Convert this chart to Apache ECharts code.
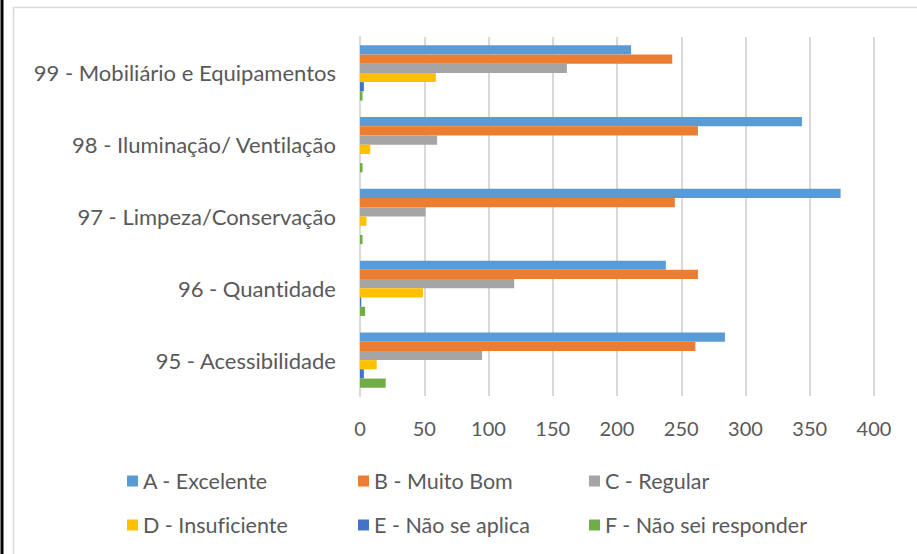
<!DOCTYPE html>
<html>
<head>
<meta charset="utf-8">
<script src="https://cdn.jsdelivr.net/npm/echarts@6/dist/echarts.min.js"></script>
<style>
  html, body { margin: 0; padding: 0; background: #fff; }
  #chart { width: 917px; height: 554px; }
  #chart text { font-variant-ligatures: none; font-feature-settings: "liga" 0, "dlig" 0; }
</style>
</head>
<body>
<div id="chart"></div>
<script>
// Questions, bottom to top
const categories = [
  '95 - Acessibilidade',
  '96 - Quantidade',
  '97 - Limpeza/Conservação',
  '98 - Iluminação/ Ventilação',
  '99 - Mobiliário e Equipamentos'
];

const seriesNames = [
  'A - Excelente',
  'B - Muito Bom',
  'C - Regular',
  'D - Insuficiente',
  'E - Não se aplica',
  'F - Não sei responder'
];

// Answer counts per question (same order as categories)
const excelente     = [284, 238, 374, 344, 211];
const muitoBom      = [261, 263, 245, 263, 243];
const regular       = [95, 120, 51, 60, 161];
const insuficiente  = [13, 49, 5, 8, 59];
const naoSeAplica   = [3, 1, 0, 0, 3];
const naoSeiResp    = [20, 4, 2, 2, 2];

const xTicks = [0, 50, 100, 150, 200, 250, 300, 350, 400];

const colors = ['#5B9BD5', '#ED7D31', '#A5A5A5', '#FFC000', '#4472C4', '#70AD47'];
const values = [excelente, muitoBom, regular, insuficiente, naoSeAplica, naoSeiResp];

const FONT = 'Lato';
const TXT = '#595959';

const chart = echarts.init(document.getElementById('chart'), null, { renderer: 'svg' });

// One legend per entry so the entries line up in three columns
const legendSpots = [
  { left: 127, top: 470 }, { left: 358, top: 470 }, { left: 589, top: 470 },
  { left: 127, top: 514 }, { left: 358, top: 514 }, { left: 589, top: 514 }
];
const legends = seriesNames.map((name, i) => ({
  data: [name],
  left: legendSpots[i].left,
  top: legendSpots[i].top,
  padding: 0,
  itemWidth: 11,
  itemHeight: 11,
  itemGap: 6,
  icon: 'rect',
  selectedMode: false,
  textStyle: { color: TXT, fontSize: 21.5, fontFamily: FONT }
}));

const series = seriesNames.map((name, i) => ({
  name: name,
  type: 'bar',
  data: values[i],
  itemStyle: { color: colors[i] },
  barGap: '0%',
  barCategoryGap: '23%'
}));

chart.setOption({
  animation: false,
  backgroundColor: '#ffffff',
  graphic: [
    { type: 'line', shape: { x1: 2, y1: 0, x2: 2, y2: 554 }, style: { stroke: '#000', lineWidth: 3 } },
    { type: 'line', shape: { x1: 13, y1: 7.5, x2: 917, y2: 7.5 }, style: { stroke: '#d9d9d9', lineWidth: 1.5 } },
    { type: 'line', shape: { x1: 13.5, y1: 7, x2: 13.5, y2: 554 }, style: { stroke: '#d9d9d9', lineWidth: 1.5 } }
  ],
  legend: legends,
  grid: { left: 360, right: 43, top: 37, bottom: 158, containLabel: false },
  xAxis: {
    type: 'value',
    min: xTicks[0],
    max: xTicks[xTicks.length - 1],
    interval: 50,
    axisLine: { show: false },
    axisTick: { show: false },
    splitLine: { lineStyle: { color: '#d9d9d9', width: 2 } },
    axisLabel: { color: TXT, fontSize: 20, fontFamily: FONT, margin: 22 }
  },
  yAxis: {
    type: 'category',
    data: categories,
    axisLine: { show: true, lineStyle: { color: '#d9d9d9', width: 2 } },
    axisTick: { show: false },
    axisLabel: { color: TXT, fontSize: 22, fontFamily: FONT, margin: 24 }
  },
  series: series
});
</script>
</body>
</html>
